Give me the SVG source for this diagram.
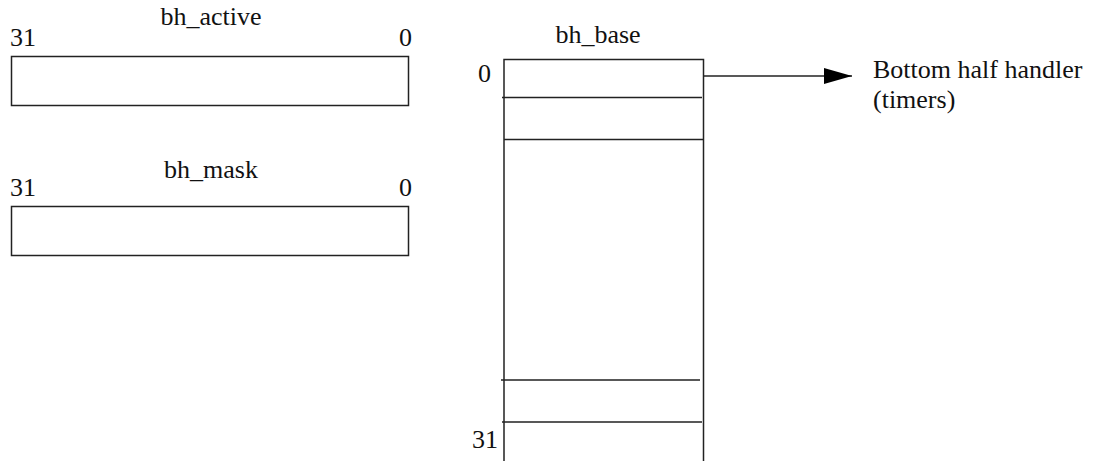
<svg xmlns="http://www.w3.org/2000/svg" width="1097" height="461" viewBox="0 0 1097 461">
<style>
text{font-family:'Liberation Serif',Tinos,'Times New Roman',Times,'DejaVu Serif',serif;font-size:26px;fill:#111}
.b{fill:#fff;stroke:#222;stroke-width:1.5}
.l{stroke:#222;stroke-width:1.5;fill:none}
</style>
<defs>
<marker id="ah" markerWidth="30" markerHeight="16" refX="29" refY="8" orient="auto" markerUnits="userSpaceOnUse">
<polygon points="1,0 29,8 1,16" fill="#000"/>
</marker>
</defs>
<rect width="1097" height="461" fill="#fff"/>
<g id="bh_active">
<text x="211" y="25" text-anchor="middle">bh_active</text>
<text x="10" y="46">31</text>
<text x="412" y="46" text-anchor="end">0</text>
<rect class="b" x="11.5" y="56.5" width="397" height="49"/>
</g>
<g id="bh_mask">
<text x="211" y="178" text-anchor="middle">bh_mask</text>
<text x="10" y="196">31</text>
<text x="412" y="196" text-anchor="end">0</text>
<rect class="b" x="11.5" y="206.5" width="397" height="49"/>
</g>
<g id="bh_base">
<text x="598" y="43" text-anchor="middle">bh_base</text>
<text x="491" y="82" text-anchor="end">0</text>
<text x="498" y="448" text-anchor="end">31</text>
<path class="l" d="M504,462 V59.5 H703.5 V462"/>
<path class="l" d="M502,97.5 H702 M504,139.5 H704 M501,380 H700 M502,422 H702"/>
</g>
<g id="handler">
<text x="873" y="78">Bottom half handler</text>
<text x="873" y="108">(timers)</text>
</g>
<g id="connectors">
<line class="l" x1="704" y1="76" x2="852" y2="76" marker-end="url(#ah)"/>
</g>
</svg>
